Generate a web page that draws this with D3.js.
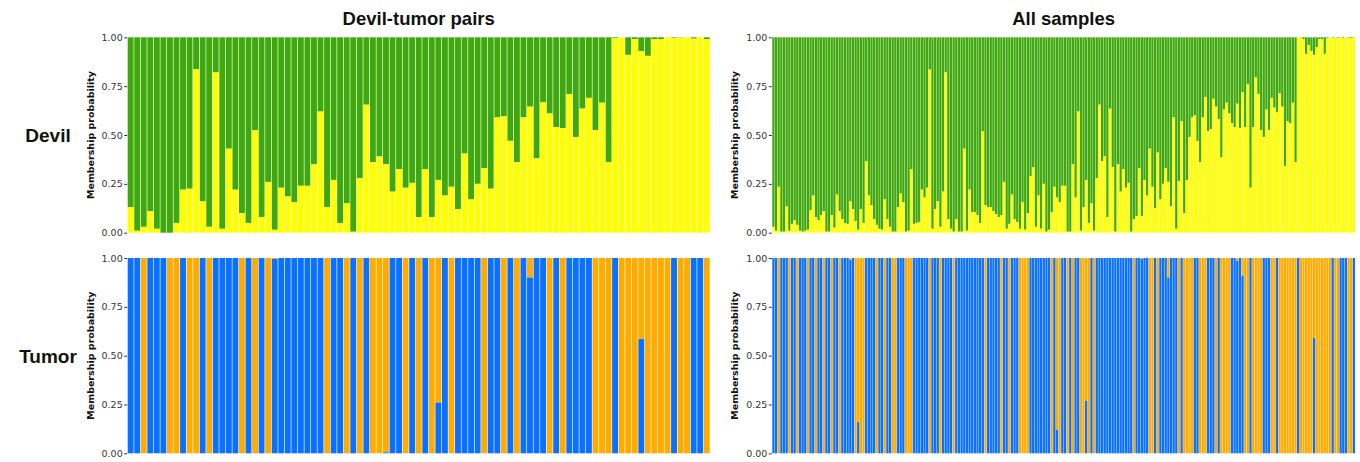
<!DOCTYPE html>
<html><head><meta charset="utf-8">
<script src="https://cdn.jsdelivr.net/npm/d3@7"></script>
<style>body{margin:0;background:#fff} svg{display:block}</style>
</head><body>
<svg id="c" width="1360" height="462"></svg>
<script>
// Yellow (bottom) membership probability for the devil rows; green fills the rest.
const leftDevil = [
0.13,0.01,0.03,0.11,0.02,0.0,0.0,0.05,0.22,0.225,
0.836,0.16,0.03,0.82,0.02,0.43,0.22,0.10,0.05,0.524,
0.08,0.26,0.015,0.23,0.185,0.155,0.24,0.24,0.35,0.62,
0.13,0.27,0.05,0.15,0.005,0.28,0.655,0.36,0.39,0.35,
0.21,0.325,0.23,0.255,0.08,0.325,0.08,0.27,0.19,0.235,
0.12,0.405,0.17,0.25,0.33,0.225,0.59,0.595,0.47,0.36,
0.59,0.645,0.38,0.667,0.61,0.54,0.535,0.71,0.49,0.635,
0.69,0.525,0.665,0.36,0.995,1.0,0.91,0.99,0.93,0.905,
0.99,0.99,1.0,0.997,0.998,1.0,0.993,1.0,0.99];
// Blue (bottom) membership probability for the tumor rows; orange fills the rest.
const leftTumor = [
1,1,0,1,1,1,0,0,1,0,
0,1,0,1,1,1,1,0,1,0,
1,0,0.995,1,1,1,1,1,1,1,
0,1,1,0,1,0,1,0,0,0.005,
1,1,0,1,0,1,0,0.26,1,0,
1,1,1,1,0,1,1,0,1,0,
1,0.9,1,1,0,1,0,1,1,1,
1,0,0,0,1,0,0,0,0.585,0,
0,0,0,1,0,0,1,1,0];
const rightDevil = [
0.03,0.01,0.235,0.005,0.005,0.135,0.01,0.045,0.065,0.04,
0.01,0.005,0.01,0.015,0.115,0.19,0.08,0.065,0.09,0.11,
0.005,0.005,0.09,0.025,0.195,0.11,0.07,0.05,0.045,0.16,
0.12,0.06,0.015,0.12,0.05,0.365,0.19,0.14,0.07,0.04,
0.02,0.015,0.17,0.07,0.03,0.005,0.005,0.13,0.2,0.155,
0.005,0.01,0.325,0.045,0.05,0.055,0.22,
0.18,0.23,0.835,0.02,0.12,0.16,0.03,0.21,0.82,0.07,
0.02,0.005,0.07,0.005,0.005,0.43,0.01,0.22,0.105,0.105,
0.09,0.05,0.52,0.14,0.13,0.13,0.11,0.095,0.08,0.09,
0.26,0.02,0.045,0.195,0.07,0.055,0.02,0.155,0.015,0.1,
0.29,0.335,0.03,0.19,0.02,0.25,0.005,0.015,0.105,0.235,
0.18,0.155,
0.24,0.24,0.005,0.005,0.35,0.18,0.62,0.01,0.13,0.27,
0.05,0.15,0.01,0.28,0.655,0.365,0.39,0.08,0.635,0.335,
0.005,0.35,0.21,0.325,0.23,0.255,0.005,0.07,0.085,0.33,
0.085,0.27,0.19,0.43,0.235,0.125,0.41,0.17,0.25,0.33,
0.26,0.135,0.59,0.02,0.265,0.57,0.1,0.27,0.49,0.59,
0.6,0.47,0.36,
0.59,0.695,0.52,0.53,0.685,0.645,0.58,0.385,0.63,0.665,
0.61,0.56,0.54,0.66,0.535,0.72,0.54,0.76,0.23,0.54,
0.795,0.71,0.525,0.49,0.63,0.525,0.69,0.64,0.615,0.715,
0.645,0.34,0.57,0.56,0.665,0.36,
1.0,0.998,0.99,0.915,0.96,0.93,0.91,0.95,0.99,0.99,
0.915,0.995,1.0,0.997,1.0,0.997,1.0,0.995,1.0,0.997,
0.995,0.998];
const rightTumor = [
1,1,0,1,1,1,0,1,1,0,
1,1,1,0,1,1,0,1,1,0,
1,1,0,1,1,0,1,1,1,0.99,
1,0,0.16,0,0,1,1,1,1,0,
1,1,0,1,1,0,0,1,1,1,
0,0,0,1,1,1,1,1,1,0,
1,1,1,0,1,1,1,1,0,1,
1,1,1,1,1,1,1,1,1,1,
0,1,1,1,1,1,0,1,1,0,
1,1,1,0,0,0,0,1,1,1,
1,1,1,1,1,0,1,0.12,0,1,
1,0,1,0,1,1,0,0,0.27,0,
1,0,1,1,1,1,1,1,1,1,
1,1,1,1,1,1,0,1,1,0.995,
1,1,0,0,1,0,1,1,1,0.9,
1,1,1,0,1,0,0,0,0,1,
1,0,0,0,1,1,1,0,1,0,
0,0,0,1,1,0.985,1,0.91,0,0,
1,0,0,0,0,1,1,1,0,0,
1,0,0,0,0,0,0,0,1,0,
0,0,0,0,0.59,0,0,0,0,0,
0,1,0,0,1,1,1,0,0,1];
const yTicks = [0, 0.25, 0.5, 0.75, 1];
const panelTitles = ["Devil-tumor pairs", "All samples"];
const rowLabels = ["Devil", "Tumor"];
const axisTitle = "Membership probability";
const devilColors = ["#ffff00", "#3ea80c"];
const tumorColors = ["#0a70ff", "#ffab00"];

const svg = d3.select("#c");
const cols = [
  {x0: 127.7, x1: 709.7, devil: leftDevil, tumor: leftTumor, pad: 0.1, title: panelTitles[0]},
  {x0: 772.3, x1: 1355, devil: rightDevil, tumor: rightTumor, pad: 0.14, title: panelTitles[1]}
];
const rows = [
  {y0: 37.3, y1: 232.7, key: "devil", colors: devilColors, label: rowLabels[0]},
  {y0: 258, y1: 453.3, key: "tumor", colors: tumorColors, label: rowLabels[1]}
];

cols.forEach(c => {
  svg.append("text").attr("x", (c.x0 + c.x1) / 2).attr("y", 25)
    .attr("text-anchor", "middle").attr("font-family", "Liberation Sans, Arial, sans-serif")
    .attr("font-weight", "bold").attr("font-size", 18.5).attr("fill", "#111").text(c.title);
});
rows.forEach(r => {
  svg.append("text").attr("x", 48).attr("y", (r.y0 + r.y1) / 2 + 7)
    .attr("text-anchor", "middle").attr("font-family", "Liberation Sans, Arial, sans-serif")
    .attr("font-weight", "bold").attr("font-size", 19).attr("fill", "#111").text(r.label);
});

rows.forEach(r => {
  cols.forEach(c => {
    const data = c[r.key];
    const x = d3.scaleBand().domain(d3.range(data.length)).range([c.x0, c.x1]).paddingInner(c.pad).paddingOuter(0);
    const y = d3.scaleLinear().domain([0, 1]).range([r.y1, r.y0]);
    const g = svg.append("g");
    g.selectAll("rect.top").data(data).join("rect").attr("class", "top")
      .attr("x", (d, i) => x(i)).attr("width", x.bandwidth())
      .attr("y", y(1)).attr("height", d => y(d) - y(1)).attr("fill", r.colors[1]);
    g.selectAll("rect.bot").data(data).join("rect").attr("class", "bot")
      .attr("x", (d, i) => x(i)).attr("width", x.bandwidth())
      .attr("y", d => y(d)).attr("height", d => y(0) - y(d)).attr("fill", r.colors[0]);
    const ax = svg.append("g").attr("transform", `translate(${c.x0 - 0.5},0)`)
      .call(d3.axisLeft(y).tickValues(yTicks).tickFormat(d3.format(".2f")).tickSize(3).tickPadding(1.5));
    ax.select(".domain").remove();
    ax.selectAll("line").attr("stroke", "#333");
    ax.selectAll("text").attr("font-family", "DejaVu Sans, sans-serif").attr("font-size", 9.5).attr("fill", "#333");
    svg.append("text").attr("transform", `translate(${c.x0 - 34},${(r.y0 + r.y1) / 2}) rotate(-90)`)
      .attr("text-anchor", "middle").attr("font-family", "DejaVu Sans, sans-serif")
      .attr("font-weight", "bold").attr("font-size", 9.5).attr("fill", "#111").text(axisTitle);
  });
});
</script>
</body></html>
